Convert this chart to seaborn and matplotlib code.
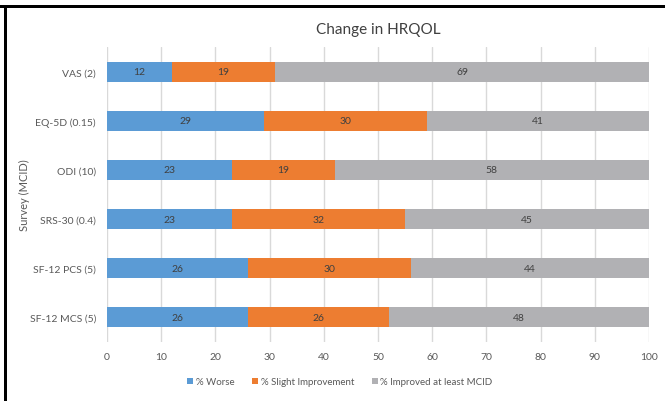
import matplotlib
matplotlib.use("Agg")
import matplotlib.pyplot as plt
from matplotlib.patches import Patch, Rectangle
import numpy as np
import pandas as pd
import seaborn as sns

surveys = ["VAS (2)", "EQ-5D (0.15)", "ODI (10)", "SRS-30 (0.4)", "SF-12 PCS (5)", "SF-12 MCS (5)"]
worse = [12, 29, 23, 23, 26, 26]
slight = [19, 30, 19, 32, 30, 26]
improved = [69, 41, 58, 45, 44, 48]
series_names = ["% Worse", "% Slight Improvement", "% Improved at least MCID"]
x_ticks = [0, 10, 20, 30, 40, 50, 60, 70, 80, 90, 100]

colors = ["#5B9BD5", "#ED7D31", "#B1B1B4"]

sns.set_theme(style="white")
plt.rcParams["font.family"] = ["Lato", "DejaVu Sans"]

df = pd.DataFrame({"survey": surveys, "worse": worse, "slight": slight, "improved": improved})
df["c1"] = df["worse"]
df["c2"] = df["worse"] + df["slight"]
df["c3"] = df["c2"] + df["improved"]

W, H = 665, 402
fig = plt.figure(figsize=(W / 100, H / 100), dpi=100)

# frame bars along the top and left edges
fig.patches.append(Rectangle((0, 1 - 9 / H), 1, 3 / H, transform=fig.transFigure,
                             facecolor="black", edgecolor="none", figure=fig))
fig.patches.append(Rectangle((4 / W, 0), 3 / W, 1 - 6 / H, transform=fig.transFigure,
                             facecolor="black", edgecolor="none", figure=fig))

ax = fig.add_axes([107 / W, 1 - 343 / H, (649 - 107) / W, (343 - 48) / H])

# stacked bars: draw cumulative totals back to front
for col, color in zip(["c3", "c2", "c1"], colors[::-1]):
    sns.barplot(data=df, x=col, y="survey", order=surveys, color=color,
                width=0.41, orient="h", ax=ax, saturation=1, linewidth=0)

# segment value labels
for i, row in df.iterrows():
    starts = [0, row["c1"], row["c2"]]
    vals = [row["worse"], row["slight"], row["improved"]]
    for s, v in zip(starts, vals):
        ax.text(s + v / 2, i, f"{v}", ha="center", va="center",
                fontsize=7.5, color="#404040")

ax.set_xlim(0, 100)
ax.set_ylim(len(surveys) - 0.5, -0.5)
ax.set_xticks(x_ticks)
ax.set_xticklabels([str(t) for t in x_ticks], fontsize=7.5, color="#595959")
ax.tick_params(axis="x", length=0, pad=7)
ax.tick_params(axis="y", length=0, pad=8, labelsize=7.5, labelcolor="#595959")
ax.set_xlabel("")
ax.set_ylabel("Survey (MCID)", fontsize=8, color="#595959")
ax.yaxis.set_label_coords((30 - 107) / 542, 0.5)
ax.xaxis.grid(True, color="#D9D9D9", linewidth=1)
ax.set_axisbelow(True)
for sp in ax.spines.values():
    sp.set_visible(False)

fig.text(378 / W, 1 - 30 / H, "Change in HRQOL", ha="center", va="center",
         fontsize=11, color="#404040")

handles = [Patch(facecolor=c, edgecolor="none") for c in colors]
fig.legend(handles, series_names, loc="center", bbox_to_anchor=(340 / W, 1 - 383 / H),
           ncol=3, frameon=False, fontsize=7, handlelength=0.6, handleheight=0.6,
           handletextpad=0.3, columnspacing=1.8, labelcolor="#595959")

fig.savefig("out.png", dpi=100)
